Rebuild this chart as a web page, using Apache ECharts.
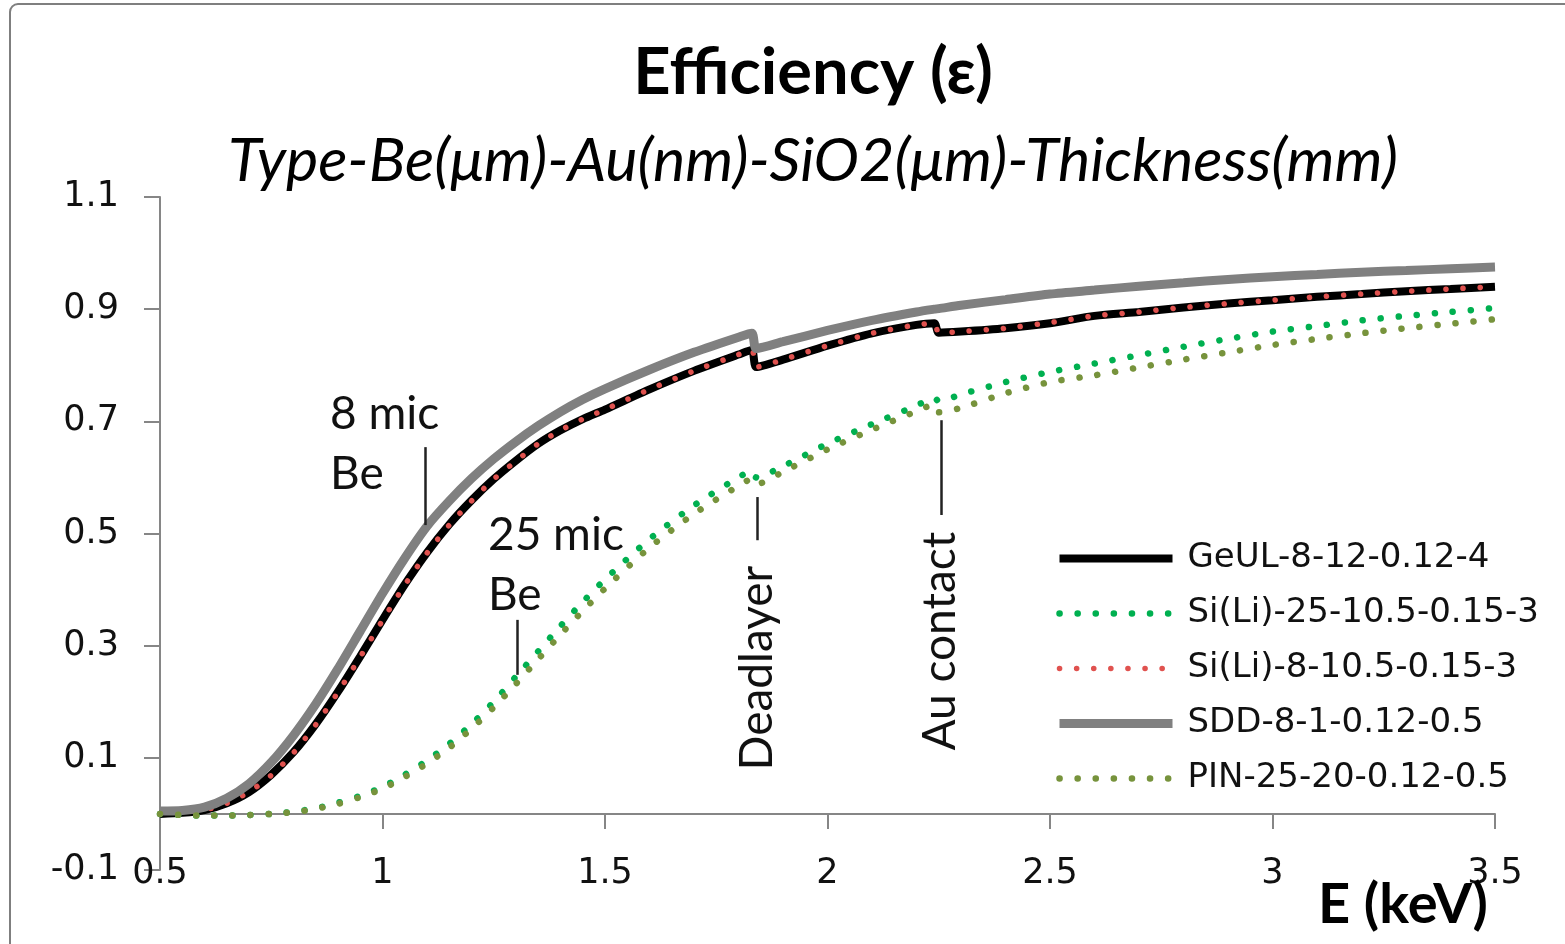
<!DOCTYPE html>
<html>
<head>
<meta charset="utf-8">
<script src="https://cdn.jsdelivr.net/npm/echarts@6/dist/echarts.min.js"></script>
<style>
  html, body { margin: 0; padding: 0; background: #fff; }
  #main { width: 1565px; height: 944px; }
</style>
</head>
<body>
<div id="main"></div>
<script>
// energy grid (keV)
var energy = [0.5, 0.55, 0.6, 0.65, 0.7, 0.75, 0.8, 0.85, 0.9, 0.95, 1.0, 1.05, 1.1, 1.15, 1.2, 1.25, 1.3, 1.35, 1.4, 1.45, 1.5,
              1.6, 1.7, 1.8, 1.83, 1.84, 1.9, 2.0, 2.1, 2.2, 2.24, 2.25, 2.3, 2.4, 2.5, 2.6, 2.7, 2.8, 2.9, 3.0, 3.1, 3.2, 3.3, 3.4, 3.5];

var geUL = [0.0, 0.002, 0.007, 0.019, 0.039, 0.07, 0.11, 0.16, 0.218, 0.281, 0.346, 0.409, 0.466, 0.516, 0.559, 0.597, 0.63, 0.66, 0.684, 0.704, 0.721,
            0.757, 0.79, 0.819, 0.827, 0.797, 0.81, 0.835, 0.857, 0.872, 0.875, 0.858, 0.86, 0.866, 0.875, 0.888, 0.895, 0.903, 0.91, 0.916, 0.922, 0.927, 0.932, 0.936, 0.94];
var siLi25 = [0.0, -0.002, -0.003, -0.003, -0.002, 0.0, 0.004, 0.01, 0.02, 0.032, 0.048, 0.07, 0.095, 0.125, 0.16, 0.2, 0.245, 0.29, 0.335, 0.378, 0.418,
              0.49, 0.55, 0.6, 0.612, 0.6, 0.62, 0.66, 0.695, 0.728, 0.742, 0.736, 0.748, 0.77, 0.788, 0.803, 0.818, 0.833, 0.847, 0.86, 0.87, 0.88, 0.888, 0.895, 0.902];
var siLi8 = [0.0, 0.002, 0.007, 0.019, 0.039, 0.069, 0.109, 0.159, 0.217, 0.28, 0.345, 0.408, 0.465, 0.515, 0.558, 0.597, 0.629, 0.66, 0.684, 0.704, 0.721,
             0.757, 0.79, 0.819, 0.827, 0.797, 0.81, 0.835, 0.857, 0.872, 0.875, 0.858, 0.86, 0.866, 0.876, 0.888, 0.895, 0.903, 0.91, 0.916, 0.922, 0.927, 0.932, 0.936, 0.94];
var sdd = [0.005, 0.006, 0.012, 0.028, 0.054, 0.092, 0.14, 0.196, 0.259, 0.326, 0.393, 0.456, 0.513, 0.558, 0.598, 0.633, 0.664, 0.692, 0.717, 0.739, 0.758,
           0.792, 0.823, 0.85, 0.857, 0.83, 0.842, 0.862, 0.88, 0.895, 0.9, 0.901, 0.907, 0.917, 0.927, 0.934, 0.941, 0.947, 0.953, 0.958, 0.962, 0.966, 0.969, 0.972, 0.975];
var pin = [0.0, -0.002, -0.003, -0.003, -0.002, 0.0, 0.003, 0.009, 0.018, 0.03, 0.045, 0.066, 0.09, 0.118, 0.152, 0.19, 0.232, 0.276, 0.32, 0.362, 0.402,
           0.475, 0.535, 0.585, 0.597, 0.588, 0.61, 0.65, 0.685, 0.718, 0.73, 0.716, 0.724, 0.75, 0.77, 0.782, 0.796, 0.81, 0.823, 0.836, 0.847, 0.857, 0.866, 0.874, 0.882];

var seriesNames = ['GeUL-8-12-0.12-4', 'Si(Li)-25-10.5-0.15-3', 'Si(Li)-8-10.5-0.15-3', 'SDD-8-1-0.12-0.5', 'PIN-25-20-0.12-0.5'];
var yTicks = [-0.1, 0.1, 0.3, 0.5, 0.7, 0.9, 1.1];

// annotation marker lines: [E, yFrom, yTo]
var markers = [[1.096, 0.654, 0.515], [1.302, 0.346, 0.248], [1.842, 0.565, 0.488], [2.255, 0.702, 0.533]];
// annotation texts: E, y, text, vertical?
var notes = [
  { x: 0.882, y: 0.66, text: '8 mic\nBe', vertical: false },
  { x: 1.237, y: 0.443, text: '25 mic\nBe', vertical: false },
  { x: 1.842, y: 0.26, text: 'Deadlayer', vertical: true },
  { x: 2.253, y: 0.308, text: 'Au contact', vertical: true }
];

function pairs(values) {
  return energy.map(function (e, i) { return [e, values[i]]; });
}

var chart = echarts.init(document.getElementById('main'));

var option = {
  animation: false,
  backgroundColor: '#fff',
  title: [
    {
      text: 'Efficiency (ε)', left: 808, top: 36, textAlign: 'center',
      textStyle: { fontFamily: 'Lato', fontWeight: 'bold', fontSize: 65, color: '#000' }
    },
    {
      text: 'Type-Be(μm)-Au(nm)-SiO2(μm)-Thickness(mm)', left: 808, top: 126, textAlign: 'center',
      textStyle: { fontFamily: 'Lato', fontStyle: 'italic', fontWeight: 'normal', fontSize: 61, color: '#000' }
    }
  ],
  legend: {
    orient: 'vertical', left: 1055, top: 541, padding: 0,
    itemWidth: 113, itemHeight: 14, itemGap: 20,
    data: seriesNames,
    itemStyle: { opacity: 0 },
    lineStyle: { width: 'inherit' },
    textStyle: { fontFamily: 'DejaVu Sans', fontSize: 34, color: '#111', lineHeight: 35, padding: [0, 0, 0, 10] }
  },
  grid: { left: 160, right: 70, top: 197, bottom: 74 },
  xAxis: [
    {
      type: 'value', min: 0.5, max: 3.5, interval: 0.5,
      axisLine: { onZero: true, lineStyle: { color: '#868686', width: 2 } },
      axisTick: { show: true, length: 15, lineStyle: { color: '#868686', width: 2 } },
      axisLabel: { show: false },
      splitLine: { show: false }
    },
    {
      type: 'value', min: 0.5, max: 3.5, interval: 0.5, position: 'bottom',
      axisLine: { show: false, onZero: false },
      axisTick: { show: false },
      axisLabel: { margin: -14, fontFamily: 'DejaVu Sans', fontSize: 35, color: '#111' },
      splitLine: { show: false }
    }
  ],
  yAxis: {
    type: 'value', min: -0.1, max: 1.1,
    axisLine: { show: true, onZero: false, lineStyle: { color: '#868686', width: 2 } },
    axisTick: { show: true, length: 16, customValues: yTicks, lineStyle: { color: '#868686', width: 2 } },
    axisLabel: {
      customValues: yTicks, margin: 41, fontFamily: 'DejaVu Sans', fontSize: 35, color: '#111',
      formatter: function (v) { return String(+v.toFixed(1)); }
    },
    splitLine: { show: false }
  },
  series: [
    {
      name: seriesNames[0], type: 'line', data: pairs(geUL), showSymbol: false, symbol: 'none', smooth: 0.25,
      lineStyle: { color: '#000', width: 8 }, itemStyle: { color: '#000' },
      markLine: {
        silent: true, symbol: 'none', label: { show: false },
        lineStyle: { color: '#222', width: 2.5, type: 'solid' },
        data: markers.map(function (m) { return [{ coord: [m[0], m[1]] }, { coord: [m[0], m[2]] }]; })
      }
    },
    {
      name: seriesNames[1], type: 'line', data: pairs(siLi25), showSymbol: false, symbol: 'none', smooth: 0.25,
      lineStyle: { color: '#00B050', width: 6.5, type: [0.1, 18], cap: 'round' }, itemStyle: { color: '#00B050' }
    },
    {
      name: seriesNames[2], type: 'line', data: pairs(siLi8), showSymbol: false, symbol: 'none', smooth: 0.25,
      lineStyle: { color: '#E0524F', width: 5.5, type: [0.1, 17], cap: 'round' }, itemStyle: { color: '#E0524F' }
    },
    {
      name: seriesNames[3], type: 'line', data: pairs(sdd), showSymbol: false, symbol: 'none', smooth: 0.25,
      lineStyle: { color: '#808080', width: 9 }, itemStyle: { color: '#808080' }
    },
    {
      name: seriesNames[4], type: 'line', data: pairs(pin), showSymbol: false, symbol: 'none', smooth: 0.25,
      lineStyle: { color: '#77933C', width: 6.5, type: [0.1, 18], cap: 'round' }, itemStyle: { color: '#77933C' }
    }
  ]
};

chart.setOption(option);

// texts placed from data coords, plus the outer frame and axis name
var graphics = [
  { type: 'rect', shape: { x: 10, y: 4, width: 1600, height: 1000, r: 8 }, style: { fill: 'none', stroke: '#7f7f7f', lineWidth: 2 }, z: 0 },
  { type: 'text', x: 1403, y: 905, style: { text: 'E (keV)', font: 'bold 56px Lato', fill: '#000', align: 'center', verticalAlign: 'middle' }, z: 10 }
];
notes.forEach(function (n) {
  var p = chart.convertToPixel({ xAxisIndex: 0, yAxisIndex: 0 }, [n.x, n.y]);
  graphics.push({
    type: 'text', x: p[0], y: p[1], rotation: n.vertical ? Math.PI / 2 : 0, z: 10,
    style: {
      text: n.text, font: '46px Lato', fill: '#111', lineHeight: 60,
      align: n.vertical ? 'center' : 'left', verticalAlign: 'middle'
    }
  });
});
chart.setOption({ graphic: graphics });
</script>
</body>
</html>
